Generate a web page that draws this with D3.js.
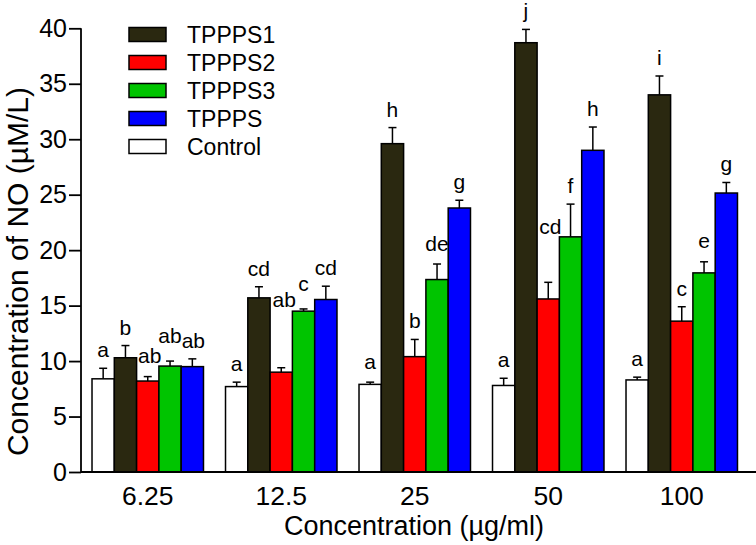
<!DOCTYPE html>
<html>
<head>
<meta charset="utf-8">
<script src="https://cdn.jsdelivr.net/npm/d3@7"></script>
<style>
  html, body { margin: 0; padding: 0; background: #fff; }
  svg { display: block; font-family: "Liberation Sans", Arial, sans-serif; }
</style>
</head>
<body>
<svg id="chart" width="756" height="545"></svg>
<script>
// ---- data ----
const categories = ["6.25", "12.5", "25", "50", "100"];
const seriesNames = ["Control", "TPPPS1", "TPPPS2", "TPPPS3", "TPPPS"];
const legendOrder = ["TPPPS1", "TPPPS2", "TPPPS3", "TPPPS", "Control"];
const controlMean = [8.4, 7.7, 7.9, 7.8, 8.3];
const controlErr  = [0.95, 0.4, 0.2, 0.65, 0.25];
const tppps1Mean  = [10.3, 15.7, 29.6, 38.7, 34.0];
const tppps1Err   = [1.1, 1.0, 1.45, 1.2, 1.7];
const tppps2Mean  = [8.2, 9.0, 10.4, 15.6, 13.6];
const tppps2Err   = [0.4, 0.4, 1.55, 1.5, 1.3];
const tppps3Mean  = [9.55, 14.5, 17.35, 21.2, 17.95];
const tppps3Err   = [0.45, 0.2, 1.4, 2.95, 1.0];
const tpppsMean   = [9.5, 15.55, 23.8, 29.0, 25.15];
const tpppsErr    = [0.7, 1.2, 0.7, 2.1, 0.95];
const controlLetters = ["a", "a", "a", "a", "a"];
const tppps1Letters  = ["b", "cd", "h", "j", "i"];
const tppps2Letters  = ["ab", "ab", "b", "cd", "c"];
const tppps3Letters  = ["ab", "c", "de", "f", "e"];
const tpppsLetters   = ["ab", "cd", "g", "h", "g"];
const yTicks = [0, 5, 10, 15, 20, 25, 30, 35, 40];
const xTitle = "Concentration (\u00b5g/ml)";
const yTitle = "Concentration of NO (\u00b5M/L)";

const colors = {
  "Control": "#ffffff",
  "TPPPS1": "#2a2810",
  "TPPPS2": "#ff0000",
  "TPPPS3": "#00c400",
  "TPPPS": "#0000ff"
};

const seriesData = {
  "Control": { mean: controlMean, err: controlErr, letters: controlLetters },
  "TPPPS1": { mean: tppps1Mean, err: tppps1Err, letters: tppps1Letters },
  "TPPPS2": { mean: tppps2Mean, err: tppps2Err, letters: tppps2Letters },
  "TPPPS3": { mean: tppps3Mean, err: tppps3Err, letters: tppps3Letters },
  "TPPPS": { mean: tpppsMean, err: tpppsErr, letters: tpppsLetters }
};

// ---- layout ----
const svg = d3.select("#chart");
const plotLeft = 81, plotRight = 748.5, plotTop = 28.3, plotBottom = 472;

const x0 = d3.scaleBand().domain(categories).range([plotLeft, plotRight])
  .paddingInner(0.165).paddingOuter(0.0825);
const x1 = d3.scaleBand().domain(seriesNames).range([0, x0.bandwidth()]).padding(0);
const y = d3.scaleLinear().domain([0, 40]).range([plotBottom, plotTop]);

const records = [];
categories.forEach((c, i) => {
  seriesNames.forEach(s => {
    const d = seriesData[s];
    records.push({ cat: c, i, series: s, mean: d.mean[i], err: d.err[i], letter: d.letters[i] });
  });
});

// bars
const g = svg.append("g");
g.selectAll("rect.bar").data(records).enter().append("rect")
  .attr("class", "bar")
  .attr("x", d => x0(d.cat) + x1(d.series))
  .attr("y", d => y(d.mean))
  .attr("width", x1.bandwidth())
  .attr("height", d => y(0) - y(d.mean))
  .attr("fill", d => colors[d.series])
  .attr("stroke", "#000")
  .attr("stroke-width", 1.5);

// error bars (upper only)
const capW = 8;
const cx = d => x0(d.cat) + x1(d.series) + x1.bandwidth() / 2;
const eb = g.selectAll("g.err").data(records).enter().append("g").attr("class", "err")
  .attr("stroke", "#000").attr("stroke-width", 1.5);
eb.append("line")
  .attr("x1", cx).attr("x2", cx)
  .attr("y1", d => y(d.mean))
  .attr("y2", d => y(d.mean + d.err));
eb.append("line")
  .attr("x1", d => cx(d) - capW / 2)
  .attr("x2", d => cx(d) + capW / 2)
  .attr("y1", d => y(d.mean + d.err))
  .attr("y2", d => y(d.mean + d.err));

// significance letters (small manual nudges to clear neighbouring bars)
const nudge = {
  "6.25|TPPPS2": [2, -3], "6.25|TPPPS3": [0, -7], "6.25|TPPPS": [1, 0],
  "12.5|TPPPS2": [3, -50], "12.5|TPPPS3": [0, -7],
  "25|Control": [0, -2], "25|TPPPS3": [0, -2],
  "50|TPPPS2": [2, -37], "100|TPPPS3": [0, -3]
};
const nd = d => nudge[d.cat + "|" + d.series] || [0, 0];
g.selectAll("text.letter").data(records).enter().append("text")
  .attr("class", "letter")
  .attr("x", d => cx(d) + nd(d)[0])
  .attr("y", d => y(d.mean + d.err) - 11 + nd(d)[1])
  .attr("text-anchor", "middle")
  .attr("font-size", 21)
  .attr("fill", "#000")
  .text(d => d.letter);

// axes
const yAxis = d3.axisLeft(y).tickValues(yTicks).tickSize(12).tickPadding(2).tickFormat(d3.format("d"));
const ya = svg.append("g").attr("transform", `translate(${plotLeft},0)`).call(yAxis);
ya.select(".domain").attr("stroke-width", 1.8).attr("d", `M0,${plotTop}V${plotBottom}`);
ya.selectAll(".tick line").attr("stroke-width", 1.8);
ya.selectAll(".tick text").attr("font-size", 25).attr("font-family", "Liberation Sans, Arial, sans-serif").attr("fill", "#000");

const xAxis = d3.axisBottom(x0).tickSize(0).tickPadding(14);
const xa = svg.append("g").attr("transform", `translate(0,${plotBottom})`).call(xAxis);
xa.select(".domain").attr("stroke-width", 1.8).attr("d", `M${plotLeft},0H756`);
xa.selectAll(".tick text").attr("font-size", 26.5).attr("font-family", "Liberation Sans, Arial, sans-serif").attr("fill", "#000")
  .attr("dy", null).attr("y", 33);

// axis titles
svg.append("text")
  .attr("x", 414).attr("y", 535)
  .attr("text-anchor", "middle").attr("font-size", 27).attr("fill", "#000")
  .text(xTitle);
svg.append("text")
  .attr("transform", "translate(27.5,271.5) rotate(-90)")
  .attr("text-anchor", "middle").attr("font-size", 30).attr("fill", "#000")
  .text(yTitle);

// legend
const lg = svg.append("g");
legendOrder.forEach((s, k) => {
  const yy = 27.5 + k * 28;
  lg.append("rect").attr("x", 129).attr("y", yy).attr("width", 37).attr("height", 14)
    .attr("fill", colors[s]).attr("stroke", "#000").attr("stroke-width", 1.5);
  lg.append("text").attr("x", 187).attr("y", yy + 7).attr("dy", "0.36em")
    .attr("font-size", 23).attr("fill", "#000").text(s);
});
</script>
</body>
</html>
